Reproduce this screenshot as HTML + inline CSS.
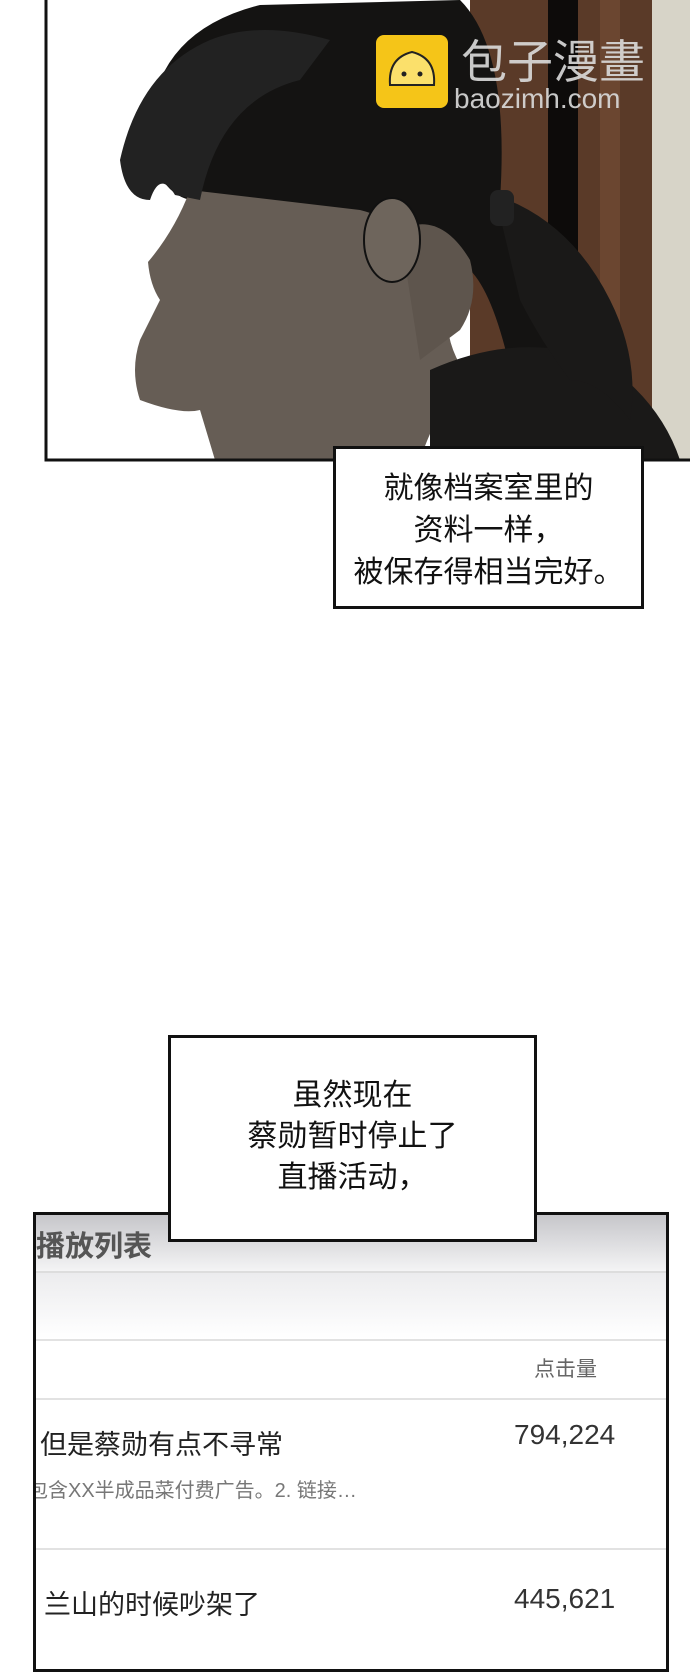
<!DOCTYPE html>
<html><head><meta charset="utf-8">
<style>
html,body{margin:0;padding:0;background:#fff;}
body{width:690px;height:1651px;position:relative;overflow:hidden;font-family:"Liberation Sans","Noto Sans CJK SC",sans-serif;}
.abs{position:absolute;}
.box{position:absolute;background:#fff;border:3px solid #111;box-sizing:border-box;text-align:center;color:#111;font-size:30px;}
</style></head><body>

<svg class="abs" style="left:0;top:0" width="690" height="470" viewBox="0 0 690 470">
  <rect x="470" y="0" width="220" height="460" fill="#5a3a28"/>
  <rect x="548" y="0" width="30" height="460" fill="#0d0b0a"/>
  <rect x="600" y="0" width="20" height="460" fill="#6b4630"/>
  <rect x="652" y="0" width="38" height="460" fill="#d7d4c8"/>
  <path d="M150 120 Q160 30 260 5 L460 0 Q510 50 500 200 Q560 260 600 330 Q610 380 600 420 L520 420 Q500 300 470 270 L380 240 Q300 200 190 200 Q150 190 150 120 Z" fill="#141312"/>
  <path d="M190 190 Q175 230 148 262 Q150 285 160 300 Q150 320 140 340 Q130 370 140 400 Q180 415 200 410 L215 460 L420 460 Q440 400 470 380 Q440 340 450 300 L420 250 Q400 220 360 210 Z" fill="#665d55"/>
  <path d="M400 230 Q440 210 470 260 Q480 300 460 330 L420 360 Z" fill="#5e554d"/>
  <path d="M430 370 Q520 330 600 360 Q660 400 680 460 L430 460 Z" fill="#1a1918"/>
  <path d="M120 160 Q140 70 210 40 Q260 20 330 40 L300 80 Q220 100 200 200 L175 195 Q160 170 150 200 Q125 200 120 160 Z" fill="#222"/>
  <ellipse cx="392" cy="240" rx="28" ry="42" fill="#6e655c" stroke="#111" stroke-width="2"/>
  <path d="M495 195 Q570 220 610 300 Q640 360 630 420 Q600 380 570 380 Q540 340 520 300 Z" fill="#1a1918"/>
  <rect x="490" y="190" width="24" height="36" rx="8" fill="#222"/>
  <path d="M46 0 V460 H690" fill="none" stroke="#111" stroke-width="3"/>
  <rect x="376" y="35" width="72" height="73" rx="8" fill="#f5c518"/>
  <path d="M390 85 Q388 58 412 52 Q436 58 434 85 Z" fill="#fbe06b" stroke="#222" stroke-width="2"/>
  <circle cx="404" cy="74" r="2.5" fill="#222"/><circle cx="420" cy="74" r="2.5" fill="#222"/>
  <text x="461" y="78" font-size="46" fill="#dcdcdc" opacity="0.9" font-family="Noto Sans CJK TC, sans-serif">包子漫畫</text>
  <text x="454" y="108" font-size="28" fill="#dcdcdc" opacity="0.9" font-family="Liberation Sans, sans-serif">baozimh.com</text>
</svg>

<div class="box" style="left:333px;top:446px;width:311px;height:163px;padding-top:19px;line-height:42px;">就像档案室里的<br>资料一样，<br>被保存得相当完好。</div>

<div class="abs" style="left:33px;top:1212px;width:636px;height:460px;border:3px solid #111;box-sizing:border-box;background:#fff;overflow:hidden;">
  <div class="abs" style="left:0;top:0;width:100%;height:56px;background:linear-gradient(#c6c6ca,#f4f4f5);"></div>
  <div class="abs" style="left:0;top:8px;font-size:29px;font-weight:bold;color:#555;">播放列表</div>
  <div class="abs" style="left:0;top:56px;width:100%;height:2px;background:#ddd;"></div>
  <div class="abs" style="left:0;top:58px;width:100%;height:66px;background:linear-gradient(#ececee,#fff);"></div>
  <div class="abs" style="left:0;top:124px;width:100%;height:2px;background:#e2e2e2;"></div>
  <div class="abs" style="left:498px;top:138px;font-size:21px;color:#666;">点击量</div>
  <div class="abs" style="left:0;top:183px;width:100%;height:2px;background:#e2e2e2;"></div>
  <div class="abs" style="left:4px;top:208px;font-size:27px;color:#222;">但是蔡勋有点不寻常</div>
  <div class="abs" style="left:478px;top:204px;font-size:28px;color:#333;">794,224</div>
  <div class="abs" style="left:-8px;top:259px;font-size:20px;color:#777;">包含XX半成品菜付费广告。2. 链接…</div>
  <div class="abs" style="left:0;top:333px;width:100%;height:2px;background:#e2e2e2;"></div>
  <div class="abs" style="left:8px;top:368px;font-size:27px;color:#222;">兰山的时候吵架了</div>
  <div class="abs" style="left:478px;top:368px;font-size:28px;color:#333;">445,621</div>
</div>

<div class="box" style="left:168px;top:1035px;width:369px;height:207px;padding-top:37px;line-height:41px;">虽然现在<br>蔡勋暂时停止了<br>直播活动，</div>

</body></html>
